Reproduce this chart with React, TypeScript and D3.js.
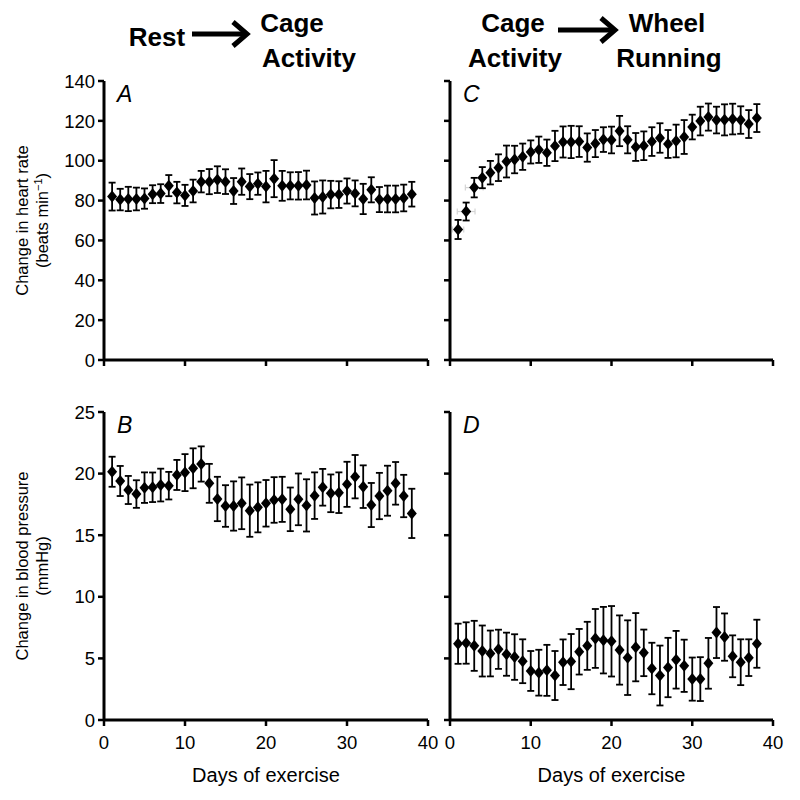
import React from 'react';
import * as d3 from 'd3';

const days = [1,2,3,4,5,6,7,8,9,10,11,12,13,14,15,16,17,18,19,20,21,22,23,24,25,26,27,28,29,30,31,32,33,34,35,36,37,38];

const hrCageMean = [82.0,80.5,80.8,80.8,81.0,83.2,83.5,87.5,84.0,82.6,84.8,89.5,89.5,90.5,89.5,84.8,89.5,87.0,88.5,87.0,91.0,87.4,87.4,87.4,87.8,81.3,81.8,83.0,83.0,84.8,83.6,80.8,85.4,80.5,80.8,80.8,81.3,83.2];
const hrCageErr = [7.0,5.4,6.1,5.7,5.1,4.5,4.7,5.3,5.4,5.3,5.7,5.4,6.3,6.7,6.2,6.5,6.6,6.3,5.6,7.9,9.3,7.5,6.8,6.9,7.2,8.3,8.3,6.9,6.7,6.3,6.5,7.6,6.3,6.3,6.7,6.7,6.7,6.2];

const bpCageMean = [20.15,19.4,18.67,18.34,18.86,18.89,19.07,19.02,19.89,20.08,20.43,20.78,19.21,17.94,17.37,17.37,17.59,16.99,17.26,17.59,17.86,17.91,17.10,17.91,17.42,18.21,18.89,18.40,18.45,19.13,19.75,18.94,17.45,18.18,18.61,19.21,18.18,16.77];
const bpCageErr = [1.22,1.22,1.14,1.12,1.24,1.2,1.33,1.12,1.22,1.5,1.62,1.43,1.58,1.8,1.69,2.0,2.1,2.12,2.03,1.89,1.85,1.83,1.77,2.1,2.12,1.89,1.49,1.53,1.65,1.83,1.76,1.73,1.79,1.88,2.03,1.73,1.72,2.0];

const hrWheelMean = [65.5,74.5,86.5,91.5,94.0,96.5,99.6,100.6,102.0,104.4,105.5,104.0,107.4,109.4,109.4,109.6,106.6,108.6,110.6,110.4,114.9,110.5,106.9,107.5,109.6,111.4,108.4,109.9,111.9,116.9,119.9,121.9,120.4,120.5,120.9,120.4,118.4,121.4];
const hrWheelErr = [4.8,4.5,4.9,5.3,5.9,6.7,8.0,6.9,6.6,5.8,6.6,6.6,7.6,7.8,8.1,7.7,7.1,6.8,6.2,6.7,7.6,6.8,7.0,7.2,7.2,7.4,7.0,8.2,8.5,6.2,7.2,6.8,6.7,7.8,7.7,6.9,7.0,7.0];
// faint horizontal (day) error bars on the first wheel-running points
const hrWheelDayErr = [0.7,1.1,1.1];

const bpWheelMean = [6.19,6.25,6.02,5.60,5.40,5.74,5.34,5.11,4.77,3.98,3.84,4.03,3.61,4.69,4.74,5.54,6.02,6.62,6.48,6.39,5.68,5.06,5.91,5.45,4.18,3.61,4.26,4.89,4.40,3.32,3.32,4.60,7.10,6.73,5.17,4.69,5.06,6.19];
const bpWheelErr = [1.63,1.68,2.03,2.07,1.86,1.59,1.75,1.85,1.78,1.62,1.86,2.07,1.99,1.85,2.24,1.85,1.95,2.39,2.7,2.86,2.81,3.03,2.77,1.89,2.09,2.43,2.41,2.34,2.12,1.75,1.78,2.06,2.07,1.92,1.70,1.86,1.49,1.95];

const hrTicks = [0,20,40,60,80,100,120,140];
const bpTicks = [0,5,10,15,20,25];
const dayTicks = [0,10,20,30,40];

const FONT = '"Liberation Sans", Arial, Helvetica, sans-serif';

type PanelProps = {
  left: number; right: number; top: number; bottom: number;
  yMax: number; yTicks: number[]; mean: number[]; err: number[];
  dayErr?: number[];
  showYLabels: boolean; showXLabels: boolean; letter: string;
};

function Panel({ left, right, top, bottom, yMax, yTicks, mean, err, dayErr, showYLabels, showXLabels, letter }: PanelProps) {
  const x = d3.scaleLinear().domain([0, 40]).range([left, right]);
  const y = d3.scaleLinear().domain([0, yMax]).range([bottom, top]);
  const diamond = (cx: number, cy: number) =>
    `M${cx},${cy - 6}L${cx + 5},${cy}L${cx},${cy + 6}L${cx - 5},${cy}Z`;
  return (
    <g>
      {dayErr && dayErr.map((e, i) => {
        const cy = y(mean[i]);
        const xa = x(days[i] - e), xb = x(days[i] + e);
        return (
          <g key={'h' + i} stroke="#d4d4d4" strokeWidth={1.2}>
            <line x1={xa} x2={xb} y1={cy} y2={cy} />
            <line x1={xa} x2={xa} y1={cy - 3} y2={cy + 3} />
            <line x1={xb} x2={xb} y1={cy - 3} y2={cy + 3} />
          </g>
        );
      })}
      {days.map((d, i) => {
        const cx = x(d);
        const y1 = y(mean[i] + err[i]);
        const y2 = y(mean[i] - err[i]);
        return (
          <g key={i}>
            <line x1={cx} x2={cx} y1={y1} y2={y2} stroke="#000" strokeWidth={1.8} />
            <line x1={cx - 3.5} x2={cx + 3.5} y1={y1} y2={y1} stroke="#000" strokeWidth={1.8} />
            <line x1={cx - 3.5} x2={cx + 3.5} y1={y2} y2={y2} stroke="#000" strokeWidth={1.8} />
            <path d={diamond(cx, y(mean[i]))} fill="#000" />
          </g>
        );
      })}
      <line x1={left} x2={left} y1={y(yMax)} y2={bottom} stroke="#000" strokeWidth={3} />
      {yTicks.map(t => (
        <g key={'y' + t}>
          <line x1={left - 6} x2={left} y1={y(t)} y2={y(t)} stroke="#000" strokeWidth={2.5} />
          {showYLabels && (
            <text x={left - 9} y={y(t)} dy="0.36em" textAnchor="end" fontSize={18.5} fontFamily={FONT}>{t}</text>
          )}
        </g>
      ))}
      <line x1={left} x2={right} y1={bottom} y2={bottom} stroke="#000" strokeWidth={3} />
      {dayTicks.map(t => (
        <g key={'x' + t}>
          <line x1={x(t)} x2={x(t)} y1={bottom} y2={bottom + 6} stroke="#000" strokeWidth={2.5} />
          {showXLabels && (
            <text x={x(t)} y={bottom + 29} textAnchor="middle" fontSize={18.5} fontFamily={FONT}>{t}</text>
          )}
        </g>
      ))}
      {showXLabels && (
        <text x={(left + right) / 2} y={bottom + 62} textAnchor="middle" fontSize={20} fontFamily={FONT}>Days of exercise</text>
      )}
      <text x={left + 13} y={top + 21} fontSize={23} fontStyle="italic" fontFamily={FONT}>{letter}</text>
    </g>
  );
}

function Arrow({ x1, x2, y }: { x1: number; x2: number; y: number }) {
  return (
    <g>
      <line x1={x1} x2={x2 - 3} y1={y} y2={y} stroke="#000" strokeWidth={5} />
      <path d={`M${x2 - 14},${y - 12}L${x2},${y}L${x2 - 14},${y + 12}`} fill="none" stroke="#000" strokeWidth={5} strokeLinejoin="miter" />
    </g>
  );
}

export default function App() {
  const L0 = 104, L1 = 428, R0 = 450, R1 = 773;
  const topT = 81, topB = 360, botT = 412, botB = 720;
  const hdr = { fontFamily: FONT, fontWeight: 700 as const, fontSize: 26 };
  return (
    <svg width={800} height={800} style={{ position: 'absolute', left: 0, top: 0, background: '#fff' }}>
      <rect width={800} height={800} fill="#fff" />
      <text x={157} y={46} textAnchor="middle" {...hdr}>Rest</text>
      <Arrow x1={192} x2={247} y={34} />
      <text x={292} y={32} textAnchor="middle" {...hdr}>Cage</text>
      <text x={309} y={67} textAnchor="middle" {...hdr}>Activity</text>
      <text x={513} y={32} textAnchor="middle" {...hdr}>Cage</text>
      <text x={515} y={67} textAnchor="middle" {...hdr}>Activity</text>
      <Arrow x1={558} x2={615} y={30} />
      <text x={667} y={32} textAnchor="middle" {...hdr}>Wheel</text>
      <text x={669} y={67} textAnchor="middle" {...hdr}>Running</text>

      <text transform={`translate(28,${(topT + topB) / 2}) rotate(-90)`} textAnchor="middle" fontSize={16.5} fontFamily={FONT}>Change in heart rate</text>
      <text transform={`translate(48,${(topT + topB) / 2}) rotate(-90)`} textAnchor="middle" fontSize={16.5} fontFamily={FONT}>
        (beats min<tspan dy={-6} fontSize={11}>−1</tspan><tspan dy={6}>)</tspan>
      </text>
      <text transform={`translate(28,${(botT + botB) / 2}) rotate(-90)`} textAnchor="middle" fontSize={16.5} fontFamily={FONT}>Change in blood pressure</text>
      <text transform={`translate(48,${(botT + botB) / 2}) rotate(-90)`} textAnchor="middle" fontSize={16.5} fontFamily={FONT}>(mmHg)</text>

      <Panel left={L0} right={L1} top={topT} bottom={topB} yMax={140} yTicks={hrTicks} mean={hrCageMean} err={hrCageErr} showYLabels showXLabels={false} letter="A" />
      <Panel left={L0} right={L1} top={botT} bottom={botB} yMax={25} yTicks={bpTicks} mean={bpCageMean} err={bpCageErr} showYLabels showXLabels letter="B" />
      <Panel left={R0} right={R1} top={topT} bottom={topB} yMax={140} yTicks={hrTicks} mean={hrWheelMean} err={hrWheelErr} dayErr={hrWheelDayErr} showYLabels={false} showXLabels={false} letter="C" />
      <Panel left={R0} right={R1} top={botT} bottom={botB} yMax={25} yTicks={bpTicks} mean={bpWheelMean} err={bpWheelErr} showYLabels={false} showXLabels letter="D" />
    </svg>
  );
}
